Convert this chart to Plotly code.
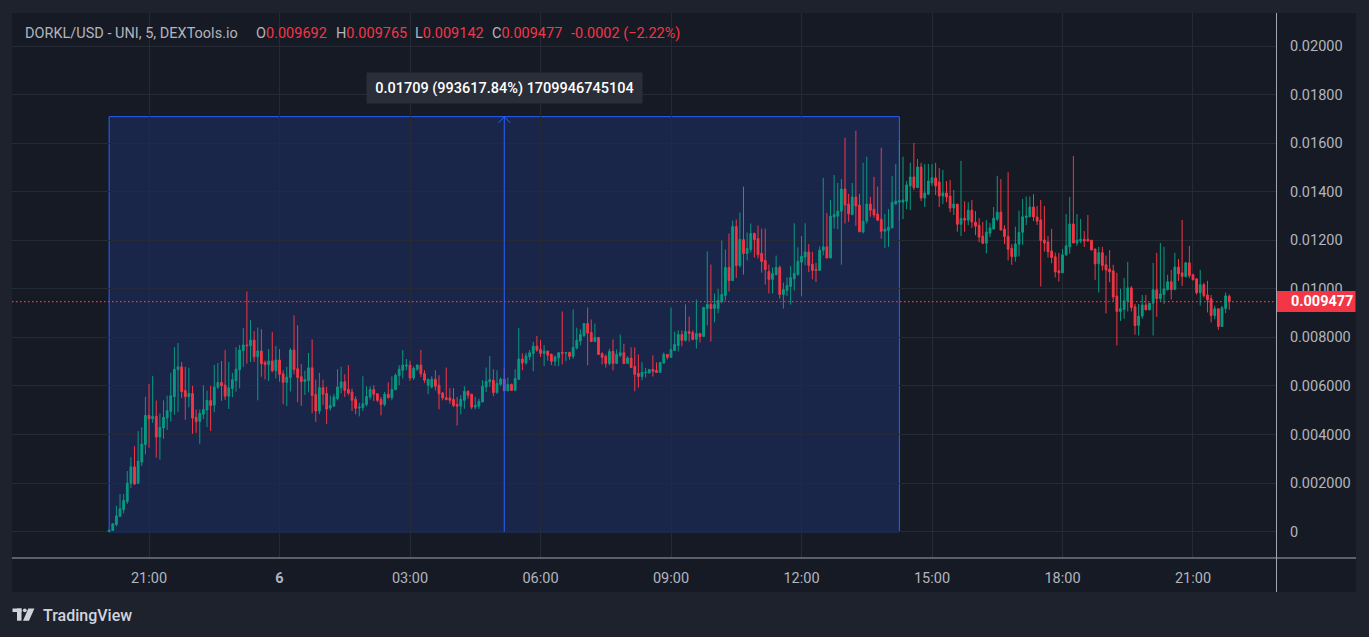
import pandas as pd
import plotly.graph_objects as go

# ---------------- data (prices in units of 1e-5 USD) ----------------
UNIT = 1e-5
START = "2024-03-05 20:05"
FREQ = "5min"

OPEN = [
    0, 5, 29, 63, 91, 124, 199, 267, 199, 287,
    359, 479, 465, 475, 390, 427, 468, 495, 556, 668,
    679, 581, 556, 569, 471, 454, 484, 501, 540, 521,
    595, 614, 604, 558, 590, 622, 667, 746, 769, 766,
    789, 720, 744, 697, 688, 703, 663, 707, 650, 615,
    635, 748, 671, 638, 618, 622, 675, 565, 497, 593,
    569, 509, 517, 548, 592, 617, 586, 575, 545, 509,
    511, 524, 555, 586, 568, 544, 524, 566, 552, 585,
    642, 665, 682, 686, 633, 669, 686, 651, 603, 596,
    628, 603, 571, 552, 551, 545, 524, 517, 541, 578,
    566, 513, 517, 534, 596, 617, 624, 573, 607, 628,
    580, 606, 582, 628, 711, 695, 720, 734, 764, 750,
    734, 744, 730, 702, 716, 738, 735, 738, 722, 756,
    785, 808, 857, 820, 783, 800, 733, 722, 693, 742,
    693, 726, 737, 693, 715, 680, 652, 639, 655, 653,
    668, 664, 656, 694, 730, 718, 746, 767, 812, 788,
    824, 820, 792, 816, 804, 919, 936, 919, 919, 948,
    973, 1088, 1034, 1257, 1096, 1203, 1146, 1162, 1228, 1207,
    1146, 1117, 1071, 1039, 1059, 1088, 977, 993, 1010, 1041,
    1060, 1110, 1131, 1152, 1101, 1080, 1076, 1159, 1173, 1127,
    1296, 1299, 1320, 1411, 1349, 1306, 1378, 1345, 1235, 1279,
    1349, 1328, 1308, 1287, 1237, 1241, 1251, 1351, 1357, 1357,
    1361, 1424, 1461, 1417, 1502, 1374, 1390, 1436, 1457, 1440,
    1382, 1395, 1382, 1333, 1349, 1266, 1290, 1283, 1324, 1274,
    1262, 1217, 1188, 1229, 1246, 1287, 1316, 1246, 1216, 1167,
    1133, 1184, 1233, 1294, 1297, 1337, 1296, 1284, 1201, 1193,
    1156, 1132, 1074, 1066, 1140, 1173, 1267, 1189, 1197, 1204,
    1204, 1200, 1164, 1103, 1149, 1099, 1082, 1074, 970, 907,
    915, 949, 1004, 926, 849, 888, 934, 914, 941, 996,
    960, 977, 997, 1029, 997, 1090, 1066, 1051, 1107, 1058,
    1041, 984, 1017, 975, 959, 890, 918, 845, 919, 969.2,
]
HIGH = [
    8, 33, 106, 155, 155, 250, 307, 352, 414, 430,
    556, 609, 642, 540, 487, 541, 560, 654, 760, 777,
    699, 679, 675, 601, 503, 503, 603, 581, 601, 687,
    695, 703, 748, 699, 654, 760, 769, 838, 989, 871,
    826, 841, 834, 705, 752, 822, 765, 752, 664, 679,
    756, 891, 850, 691, 663, 736, 792, 626, 654, 626,
    597, 561, 567, 669, 679, 648, 686, 589, 557, 531,
    640, 599, 599, 603, 571, 555, 575, 615, 640, 651,
    686, 748, 711, 704, 680, 690, 748, 665, 631, 640,
    665, 644, 575, 676, 591, 591, 555, 562, 599, 582,
    568, 555, 548, 624, 676, 723, 669, 665, 635, 676,
    635, 610, 669, 839, 734, 737, 748, 782, 806, 789,
    768, 744, 734, 726, 739, 907, 738, 741, 915, 840,
    833, 857, 923, 874, 857, 800, 739, 730, 753, 792,
    750, 812, 774, 722, 759, 759, 730, 698, 674, 668,
    726, 697, 697, 738, 730, 923, 824, 829, 829, 936,
    886, 829, 956, 816, 926, 1154, 1100, 981, 1000, 1199,
    1162, 1228, 1281, 1285, 1314, 1421, 1232, 1269, 1232, 1261,
    1248, 1248, 1100, 1088, 1137, 1096, 1026, 1048, 1094, 1270,
    1171, 1217, 1270, 1184, 1152, 1107, 1175, 1457, 1312, 1366,
    1469, 1436, 1452, 1622, 1391, 1436, 1651, 1391, 1519, 1544,
    1378, 1461, 1421, 1581, 1308, 1328, 1465, 1514, 1610, 1544,
    1444, 1519, 1601, 1535, 1519, 1514, 1514, 1514, 1519, 1498,
    1490, 1444, 1448, 1407, 1349, 1527, 1361, 1357, 1366, 1320,
    1291, 1275, 1283, 1271, 1337, 1465, 1452, 1262, 1480, 1185,
    1256, 1322, 1370, 1380, 1380, 1390, 1341, 1366, 1341, 1218,
    1247, 1149, 1148, 1164, 1308, 1378, 1547, 1308, 1288, 1238,
    1304, 1201, 1164, 1173, 1173, 1137, 1160, 1099, 1066, 1001,
    1045, 1111, 1011, 938, 938, 975, 975, 941, 1107, 1148,
    1189, 1173, 1058, 1078, 1148, 1123, 1284, 1111, 1177, 1062,
    1045, 1078, 1025, 1033, 975, 930, 918, 930, 985, 976.5,
]
LOW = [
    0, 4, 22, 60, 76, 114, 180, 193, 196, 271,
    318, 346, 448, 305, 297, 382, 419, 454, 482, 492,
    550, 461, 512, 403, 407, 362, 463, 431, 415, 492,
    588, 539, 543, 505, 554, 577, 590, 679, 692, 699,
    699, 541, 638, 627, 620, 656, 631, 618, 525, 517,
    577, 648, 533, 518, 563, 574, 488, 452, 484, 522,
    444, 499, 513, 541, 569, 555, 562, 497, 483, 475,
    497, 516, 544, 538, 534, 479, 516, 548, 541, 582,
    603, 631, 665, 621, 625, 662, 637, 613, 566, 590,
    582, 504, 541, 541, 527, 513, 437, 483, 506, 548,
    504, 504, 506, 534, 575, 596, 558, 568, 599, 580,
    580, 580, 580, 624, 665, 688, 706, 661, 741, 720,
    682, 704, 686, 682, 682, 689, 702, 709, 712, 750,
    767, 801, 685, 783, 781, 730, 689, 676, 685, 664,
    693, 719, 689, 693, 676, 578, 593, 623, 635, 653,
    639, 654, 656, 694, 709, 718, 746, 742, 763, 783,
    783, 788, 754, 779, 804, 849, 783, 862, 899, 940,
    952, 989, 1034, 1045, 1088, 1059, 1117, 1150, 1129, 1125,
    1067, 1018, 981, 981, 1055, 960, 919, 970, 935, 993,
    1053, 969, 1097, 1069, 1039, 1028, 1076, 1138, 1127, 1127,
    1248, 1246, 1099, 1269, 1276, 1303, 1259, 1235, 1228, 1269,
    1297, 1293, 1279, 1207, 1168, 1173, 1251, 1345, 1283, 1287,
    1328, 1324, 1407, 1414, 1362, 1337, 1386, 1424, 1386, 1337,
    1349, 1357, 1316, 1304, 1235, 1217, 1235, 1262, 1251, 1221,
    1192, 1184, 1146, 1213, 1246, 1279, 1242, 1184, 1117, 1099,
    1112, 1133, 1181, 1263, 1297, 1279, 1263, 1010, 1153, 1129,
    1105, 1047, 1030, 1066, 1136, 1145, 1189, 1177, 1188, 1173,
    1195, 1160, 1037, 985, 1075, 899, 1027, 948, 767, 868,
    877, 907, 907, 811, 808, 877, 911, 911, 808, 885,
    948, 938, 993, 956, 997, 1033, 1012, 1047, 1045, 1037,
    976, 931, 964, 903, 862, 875, 831, 845, 900, 914.2,
]
CLOSE = [
    6, 33, 65, 94, 128, 200, 267, 196, 291, 361,
    479, 465, 475, 390, 430, 471, 498, 560, 669, 679,
    577, 556, 569, 468, 454, 487, 503, 540, 520, 596,
    614, 601, 558, 593, 626, 669, 748, 769, 766, 789,
    720, 744, 692, 688, 703, 663, 707, 648, 615, 637,
    748, 668, 635, 618, 627, 675, 561, 497, 593, 566,
    505, 520, 555, 596, 617, 582, 571, 541, 508, 513,
    527, 557, 586, 566, 541, 524, 566, 552, 586, 644,
    669, 686, 686, 633, 672, 686, 650, 624, 627, 628,
    599, 568, 551, 544, 541, 520, 517, 545, 578, 562,
    513, 520, 537, 599, 619, 626, 573, 610, 628, 580,
    606, 582, 631, 711, 695, 724, 737, 764, 748, 734,
    744, 727, 702, 719, 737, 735, 738, 722, 759, 788,
    812, 857, 818, 783, 800, 730, 718, 693, 742, 693,
    730, 737, 693, 715, 676, 648, 639, 656, 657, 668,
    660, 656, 697, 730, 718, 750, 771, 812, 788, 824,
    816, 792, 816, 804, 923, 936, 919, 936, 952, 977,
    1088, 1034, 1257, 1096, 1203, 1146, 1166, 1228, 1203, 1141,
    1113, 1080, 1039, 1063, 1088, 977, 997, 1014, 1046, 1064,
    1113, 1134, 1152, 1097, 1076, 1076, 1159, 1173, 1127, 1299,
    1306, 1320, 1411, 1345, 1309, 1378, 1341, 1235, 1279, 1349,
    1324, 1304, 1283, 1237, 1246, 1254, 1356, 1361, 1363, 1366,
    1428, 1461, 1417, 1502, 1374, 1395, 1444, 1457, 1424, 1382,
    1395, 1378, 1333, 1349, 1266, 1290, 1283, 1324, 1276, 1258,
    1213, 1188, 1233, 1251, 1291, 1316, 1242, 1216, 1163, 1133,
    1185, 1233, 1297, 1300, 1337, 1296, 1279, 1199, 1189, 1153,
    1129, 1070, 1066, 1140, 1177, 1267, 1189, 1201, 1204, 1197,
    1197, 1160, 1103, 1149, 1096, 1078, 1070, 966, 907, 918,
    951, 1004, 923, 849, 888, 934, 914, 941, 996, 960,
    979, 1000, 1029, 997, 1090, 1062, 1051, 1107, 1055, 1037,
    984, 1017, 973, 955, 890, 918, 845, 922, 971, 947.7,
]
assert len(OPEN) == len(HIGH) == len(LOW) == len(CLOSE)

PRICE_TICKS = [0, 0.002, 0.004, 0.006, 0.008, 0.010, 0.012, 0.014, 0.016, 0.018, 0.020]
PRICE_TICK_TEXT = ["0", "0.002000", "0.004000", "0.006000", "0.008000",
                   "0.01000", "0.01200", "0.01400", "0.01600", "0.01800", "0.02000"]
TIME_TICKS = ["2024-03-05 21:00", "2024-03-06 00:00", "2024-03-06 03:00",
              "2024-03-06 06:00", "2024-03-06 09:00", "2024-03-06 12:00",
              "2024-03-06 15:00", "2024-03-06 18:00", "2024-03-06 21:00"]
TIME_TICK_TEXT = ["21:00", "<b>6</b>", "03:00", "06:00", "09:00",
                  "12:00", "15:00", "18:00", "21:00"]

TITLE = "DORKL/USD - UNI, 5, DEXTools.io"
MEASURE_START = "2024-03-05 20:05"
MEASURE_END = "2024-03-06 14:15"
MEASURE_LOW = 0.0
MEASURE_HIGH = 0.01709
MEASURE_LABEL = "0.01709 (993617.84%) 1709946745104"

X_RANGE = ["2024-03-05 17:51:00", "2024-03-06 22:54:30"]
Y_RANGE = [-0.001083, 0.021359]

# ---------------- styling ----------------
UP = "#089981"
DOWN = "#F23645"
BLUE = "#2962FF"
PANE = "#161A25"
OUTER = "#1E222D"
GRID = "#262A35"
TXT = "#B2B5BE"
SEP = "#A3A6AF"
FONT = "Roboto, 'Open Sans', sans-serif"
W, H = 1369, 637
PL, PR, PT, PB = 12, 1276, 13, 558


def fx(px):
    return (px - PL) / (PR - PL)


def fy(py):
    return (PB - py) / (PB - PT)


times = pd.date_range(START, periods=len(CLOSE), freq=FREQ)
o = [v * UNIT for v in OPEN]
h = [v * UNIT for v in HIGH]
l = [v * UNIT for v in LOW]
c = [v * UNIT for v in CLOSE]

fig = go.Figure()
fig.add_trace(go.Candlestick(
    x=times, open=o, high=h, low=l, close=c,
    increasing=dict(line=dict(color=UP, width=1), fillcolor=UP),
    decreasing=dict(line=dict(color=DOWN, width=1), fillcolor=DOWN),
    whiskerwidth=0, hoverinfo="skip", showlegend=False,
))

# measure tool: arrow chevron
m0 = pd.Timestamp(MEASURE_START)
m1 = pd.Timestamp(MEASURE_END)
mid = m0 + (m1 - m0) / 2
dt = pd.Timedelta(minutes=8)
dy = 0.00025
fig.add_trace(go.Scatter(
    x=[mid - dt, mid, mid + dt], y=[MEASURE_HIGH - dy, MEASURE_HIGH, MEASURE_HIGH - dy],
    mode="lines", line=dict(color=BLUE, width=1), hoverinfo="skip", showlegend=False,
))

shapes = []
# pane background
shapes.append(dict(type="rect", xref="paper", yref="paper", x0=fx(12), x1=fx(1356),
                   y0=fy(592), y1=fy(13), fillcolor=PANE, line=dict(width=0), layer="below"))
# measure rectangle
shapes.append(dict(type="rect", xref="x", yref="y", x0=m0, x1=m1, y0=MEASURE_LOW, y1=MEASURE_HIGH,
                   fillcolor="rgba(41,98,255,0.17)", line=dict(color=BLUE, width=1), layer="below"))
shapes.append(dict(type="line", xref="x", yref="y", x0=mid, x1=mid, y0=MEASURE_LOW, y1=MEASURE_HIGH,
                   line=dict(color=BLUE, width=1), layer="above"))
# separators of the axis panes
shapes.append(dict(type="line", xref="paper", yref="paper", x0=fx(1276.5), x1=fx(1276.5),
                   y0=fy(592), y1=fy(13), line=dict(color=SEP, width=1), layer="above"))
shapes.append(dict(type="line", xref="paper", yref="paper", x0=fx(12), x1=fx(1356),
                   y0=fy(558), y1=fy(558), line=dict(color=SEP, width=1), layer="above"))
# last price line + label box
last = c[-1]
ypix = lambda p: (p - Y_RANGE[0]) / (Y_RANGE[1] - Y_RANGE[0])
shapes.append(dict(type="line", xref="paper", yref="y", x0=0, x1=1, y0=last, y1=last,
                   line=dict(color=DOWN, width=1.2, dash="1.5px,2.5px"), layer="above"))
half = 10.5 / (PB - PT)
shapes.append(dict(type="rect", xref="paper", yref="paper", x0=fx(1277), x1=fx(1355.5),
                   y0=ypix(last) - half, y1=ypix(last) + half, fillcolor=DOWN,
                   line=dict(width=0), layer="above"))
# TradingView logo glyph
LOGO = "#D1D4DC"
shapes.append(dict(type="rect", xref="paper", yref="paper", x0=fx(12.5), x1=fx(21.5),
                   y0=fy(612), y1=fy(608.5), fillcolor=LOGO, line=dict(width=0)))
shapes.append(dict(type="rect", xref="paper", yref="paper", x0=fx(17), x1=fx(21.5),
                   y0=fy(620.7), y1=fy(608.5), fillcolor=LOGO, line=dict(width=0)))
shapes.append(dict(type="circle", xref="paper", yref="paper", x0=fx(22.9), x1=fx(26.7),
                   y0=fy(612.2), y1=fy(608.4), fillcolor=LOGO, line=dict(width=0)))
shapes.append(dict(type="path", xref="paper", yref="paper",
                   path=f"M {fx(28.3)} {fy(608.5)} L {fx(34.4)} {fy(608.5)} L {fx(29.0)} {fy(620.7)} "
                        f"L {fx(23.0)} {fy(620.7)} Z",
                   fillcolor=LOGO, line=dict(width=0)))

annotations = []
# legend line
annotations.append(dict(xref="paper", yref="paper", x=fx(23), y=fy(33.3), xanchor="left",
                        yanchor="middle", showarrow=False, text=TITLE,
                        font=dict(color=TXT, size=14.5, family=FONT)))
vals = [("O", OPEN[-1] * UNIT, 253.5), ("H", HIGH[-1] * UNIT, 333.5),
        ("L", LOW[-1] * UNIT, 412.5), ("C", CLOSE[-1] * UNIT, 489.5)]
for lab, v, px in vals:
    annotations.append(dict(xref="paper", yref="paper", x=fx(px), y=fy(33.3), xanchor="left",
                            yanchor="middle", showarrow=False,
                            text=f"{lab}<span style='color:{DOWN}'>{v:.6f}</span>",
                            font=dict(color=TXT, size=14.5, family=FONT)))
chg = (CLOSE[-1] - OPEN[-1]) * UNIT
pct = (CLOSE[-1] - OPEN[-1]) / OPEN[-1] * 100
pct_txt = f"{pct:.2f}".replace("-", "\u2212")
annotations.append(dict(xref="paper", yref="paper", x=fx(569), y=fy(33.3), xanchor="left",
                        yanchor="middle", showarrow=False, text=f"{chg:.4f} ({pct_txt}%)",
                        font=dict(color=DOWN, size=14.5, family=FONT)))
# measure tooltip
annotations.append(dict(xref="x", yref="paper", x=mid, y=fy(88.3), xanchor="center",
                        yanchor="middle", showarrow=False, text=MEASURE_LABEL,
                        width=275, height=30, borderpad=0, bgcolor="#2A2E39",
                        font=dict(color="#FFFFFF", size=14.5, family=FONT, weight=500)))
# last price label
annotations.append(dict(xref="paper", yref="y", x=fx(1289), y=last, xanchor="left",
                        yanchor="middle", showarrow=False, text=f"<b>{last:.6f}</b>",
                        font=dict(color="#FFFFFF", size=14.5, family=FONT)))
# TradingView word mark
annotations.append(dict(xref="paper", yref="paper", x=fx(41), y=fy(615.5), xanchor="left",
                        yanchor="middle", showarrow=False, text="TradingView",
                        font=dict(color=LOGO, size=16, family=FONT, weight=500)))

fig.update_layout(
    width=W, height=H, autosize=False,
    margin=dict(l=PL, r=W - PR, t=PT, b=H - PB, pad=0),
    paper_bgcolor=OUTER, plot_bgcolor=PANE,
    showlegend=False, hovermode=False,
    shapes=shapes, annotations=annotations,
    font=dict(family=FONT, color=TXT, size=14.5),
    xaxis=dict(type="date", range=X_RANGE, tickvals=TIME_TICKS, ticktext=TIME_TICK_TEXT,
               showgrid=True, gridcolor=GRID, gridwidth=1, zeroline=False, showline=False,
               ticks="outside", ticklen=7, tickcolor="rgba(0,0,0,0)",
               tickfont=dict(color=TXT, size=14.5, family=FONT),
               rangeslider=dict(visible=False), automargin=False, fixedrange=True),
    yaxis=dict(side="right", range=Y_RANGE, tickvals=PRICE_TICKS, ticktext=PRICE_TICK_TEXT,
               showgrid=True, gridcolor=GRID, gridwidth=1, zeroline=False, showline=False,
               ticks="outside", ticklen=10, tickcolor="rgba(0,0,0,0)",
               tickfont=dict(color=TXT, size=14.5, family=FONT),
               automargin=False, fixedrange=True),
)

fig.write_html("out.html")
